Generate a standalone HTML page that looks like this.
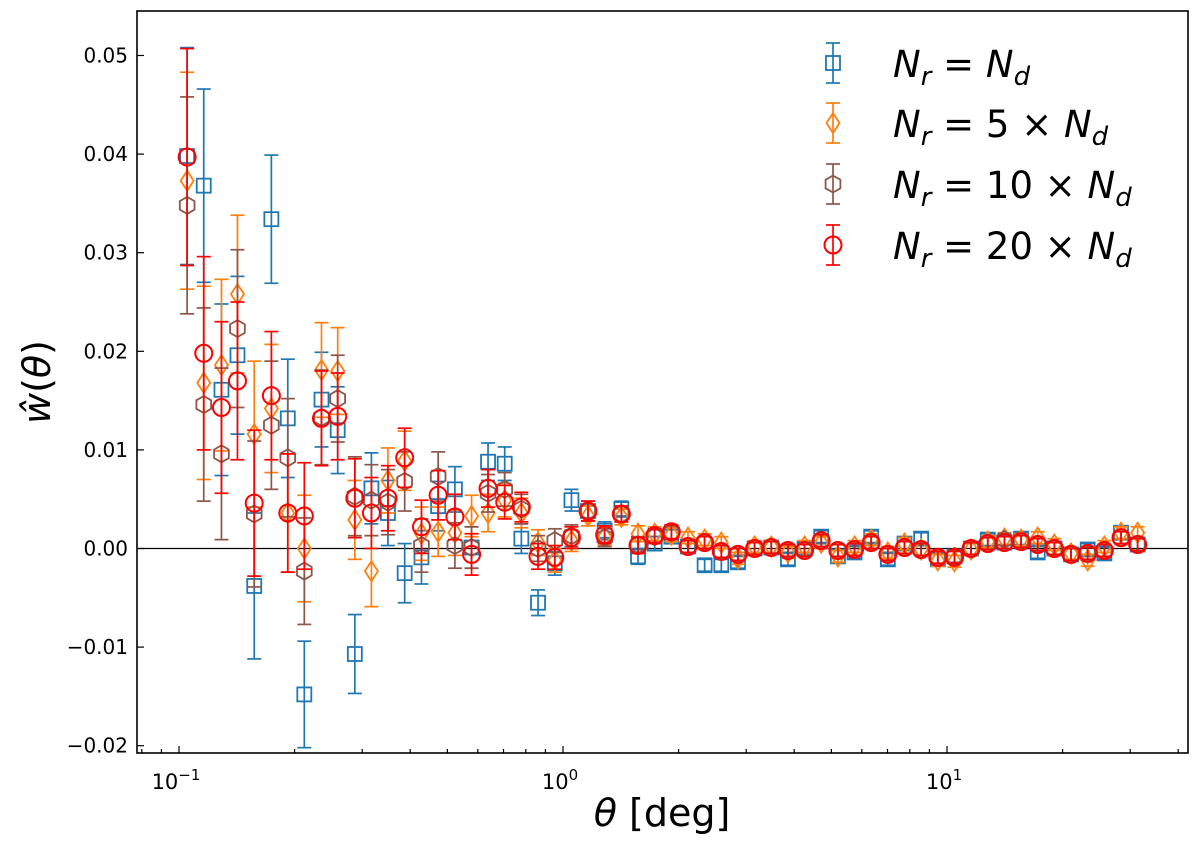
<!DOCTYPE html>
<html><head><meta charset="utf-8"><style>
body{margin:0;background:#fff;}
svg{display:block;font-family:"DejaVu Sans","Liberation Sans",sans-serif;}
</style></head><body>
<svg id="chart" width="1200" height="845" viewBox="0 0 1200 845"></svg>
<script>
const theta=[0.105,0.116,0.129,0.142,0.157,0.174,0.192,0.212,0.235,0.259,0.287,0.317,0.350,0.387,0.428,0.473,0.523,0.578,0.638,0.705,0.779,0.861,0.952,1.052,1.162,1.284,1.419,1.568,1.733,1.915,2.116,2.338,2.584,2.855,3.155,3.486,3.852,4.257,4.704,5.198,5.744,6.347,7.013,7.750,8.563,9.463,10.46,11.55,12.77,14.11,15.59,17.23,19.04,21.04,23.25,25.69,28.39,31.37];
const errs=[0.011,0.0098,0.0087,0.008,0.0074,0.0065,0.006,0.0054,0.0048,0.0044,0.004,0.0036,0.0033,0.003,0.0027,0.0025,0.0023,0.0021,0.0019,0.0017,0.0015,0.0013,0.0012,0.0011,0.001,0.0009,0.0008,0.0008,0.0007,0.0007,0.0006,0.0006,0.0006,0.0006,0.0006,0.0006,0.0006,0.0006,0.0006,0.0006,0.0006,0.0006,0.0006,0.0006,0.0006,0.0006,0.0006,0.0006,0.0006,0.0006,0.0006,0.0006,0.0006,0.0006,0.0006,0.0006,0.0006,0.0006];
const wBlue=[.0398,.0368,.0161,.0196,-.0038,.0334,.0132,-.0148,.0151,.0120,-.0107,.0061,.0036,-.0025,-.0009,.0043,.0060,.0001,.0088,.0086,.0010,-.0055,-.0015,.0049,.0038,.0018,.0040,-.0008,.0005,.0012,.0002,-.0017,-.0017,-.0014,0,.0001,-.0011,0,.0012,-.0008,-.0004,.0012,-.0011,.0005,.0010,-.0011,-.0008,0,.0009,.0006,.0010,-.0004,0,-.0006,-.0001,-.0005,.0016,.0004];
const wOrange=[.0373,.0168,.0186,.0258,.0116,.0142,.0036,0,.0181,.0180,.0029,-.0023,.0069,.0089,.0015,.0017,.0016,.0033,.0036,.0049,.0036,.0006,-.0012,.0008,.0033,.0012,.0032,.0015,.0015,.0014,.0011,.0009,.0006,-.0010,.0002,.0002,-.0004,.0002,.0006,-.0008,.0002,.0009,-.0004,.0005,-.0001,-.0012,-.0013,-.0001,.0007,.0010,.0009,.0011,.0004,-.0005,-.0012,.0002,.0016,.0016];
const wBrown=[.0348,.0146,.0096,.0223,.0035,.0125,.0092,-.0023,.0133,.0152,.0053,.0049,.0047,.0068,.0003,.0073,.0003,.0001,.0056,.0060,.0040,0,.0008,.0013,.0038,.0011,.0035,.0004,.0012,.0016,.0002,.0006,-.0003,-.0006,0,.0001,-.0002,-.0002,.0008,-.0002,-.0001,.0006,-.0006,.0001,-.0001,-.0009,-.0008,0,.0005,.0009,.0007,.0004,0,-.0006,-.0005,-.0002,.0011,.0004];
const wRed=[.0397,.0198,.0143,.0170,.0046,.0155,.0036,.0033,.0132,.0134,.0051,.0036,.0051,.0092,.0022,.0054,.0032,-.0006,.0061,.0047,.0042,-.0008,-.0009,.0011,.0038,.0014,.0035,.0003,.0013,.0017,.0002,.0006,-.0003,-.0006,0,.0001,-.0002,-.0002,.0008,-.0002,-.0001,.0006,-.0006,.0001,-.0001,-.0009,-.0009,0,.0005,.0006,.0007,.0004,0,-.0006,-.0005,-.0002,.0011,.0004];
const yTicks=[0.05,0.04,0.03,0.02,0.01,0.00,-0.01,-0.02];
const yTickLabels=["0.05","0.04","0.03","0.02","0.01","0.00","\u22120.01","\u22120.02"];

const L=137,R=1188,T=11,B=753;
const X=t=>563+384*Math.log10(t);
const Y=v=>548.5-v*9860;
const NS="http://www.w3.org/2000/svg";
const svg=document.getElementById('chart');
function mk(tag,attrs,parent){const e=document.createElementNS(NS,tag);for(const k in attrs)e.setAttribute(k,attrs[k]);(parent||svg).appendChild(e);return e;}

const zl=mk('line',{x1:L,x2:R,y1:Y(0),y2:Y(0),stroke:'#000','stroke-width':1.3});



function marker(g,kind,cx,cy,col){
  let e;
  if(kind==='s') e=mk('rect',{x:cx-7,y:cy-7,width:14,height:14,fill:'none',stroke:col,'stroke-width':1.8},g);
  else if(kind==='d') e=mk('polygon',{points:`${cx},${cy-10} ${cx+6.5},${cy} ${cx},${cy+10} ${cx-6.5},${cy}`,fill:'none',stroke:col,'stroke-width':1.8},g);
  else if(kind==='h'){let p=[];for(let k=0;k<6;k++){const a=Math.PI/2+k*Math.PI/3;p.push((cx+8.5*Math.cos(a)).toFixed(1)+','+(cy+8.5*Math.sin(a)).toFixed(1));}e=mk('polygon',{points:p.join(' '),fill:'none',stroke:col,'stroke-width':1.8},g);}
  else e=mk('circle',{cx:cx,cy:cy,r:8.5,fill:'none',stroke:col,'stroke-width':2},g);
  return e;
}
function errbar(g,cx,ylo,yhi,col){
  mk('line',{x1:cx,x2:cx,y1:ylo,y2:yhi,stroke:col,'stroke-width':1.7},g);
  mk('line',{x1:cx-7,x2:cx+7,y1:ylo,y2:ylo,stroke:col,'stroke-width':1.7},g);
  mk('line',{x1:cx-7,x2:cx+7,y1:yhi,y2:yhi,stroke:col,'stroke-width':1.7},g);
}
const series=[[wBlue,'#1f77b4','s','series-nr-eq-nd'],[wOrange,'#ff7f0e','d','series-nr-5nd'],[wBrown,'#8c564b','h','series-nr-10nd'],[wRed,'#ff0000','c','series-nr-20nd']];
series.forEach(([vals,col,kind,name])=>{
  const g=mk('g',{});
  
  
  vals.forEach((v,i)=>{
    const cx=X(theta[i]);
    errbar(g,cx,Y(v-errs[i]),Y(v+errs[i]),col);
    const m=marker(g,kind,cx,Y(v),col);
    
    
  });
});

const fr=mk('rect',{x:L,y:T,width:R-L,height:B-T,fill:'none',stroke:'#000','stroke-width':1.6});



yTicks.forEach((v,i)=>{
  const y=Y(v);
  mk('line',{x1:L,x2:L+7,y1:y,y2:y,stroke:'#000','stroke-width':1.2});
  const t=mk('text',{x:L-9,y:y+7,'text-anchor':'end','font-size':20,fill:'#000'});
  t.textContent=yTickLabels[i];
  
  
});
for(let d=-2;d<=1;d++){
  for(let m=1;m<10;m++){
    const v=m*Math.pow(10,d);const x=X(v);
    if(x<L||x>R)continue;
    mk('line',{x1:x,x2:x,y1:B,y2:B-(m===1?7:4),stroke:'#000','stroke-width':1.2});
  }
}
[[0.1,'\u22121'],[1,'0'],[10,'1']].forEach(([v,e])=>{
  const t=mk('text',{x:X(v)-3,y:B+36,'text-anchor':'middle','font-size':21,fill:'#000'});
  t.textContent='10';
  const s=mk('tspan',{dy:-9,'font-size':15},t);s.textContent=e;
  
  
});

const xt=mk('text',{x:662,y:826,'text-anchor':'middle','font-size':38,fill:'#000'});
xt.innerHTML='<tspan font-style="italic">θ</tspan> [deg]';


const yt=mk('text',{x:0,y:0,'text-anchor':'middle','font-size':38,fill:'#000',transform:'translate(50,382) rotate(-90)'});
yt.innerHTML='<tspan font-style="italic">ŵ</tspan>(<tspan font-style="italic">θ</tspan>)';



const legLabels=['','5 × ','10 × ','20 × '];
const legY=[63,123,184,245];
series.forEach(([vals,col,kind,name],i)=>{
  const g=mk('g',{});
  
  
  const cy=legY[i];
  errbar(g,833,cy-20,cy+20,col);
  marker(g,kind,833,cy,col);
  const t=mk('text',{x:893,y:cy+14,'font-size':37,fill:'#000'},g);
  t.innerHTML='<tspan font-style="italic">N</tspan><tspan font-style="italic" font-size="26" dy="8">r</tspan><tspan dy="-8"> = '+legLabels[i]+'</tspan><tspan font-style="italic">N</tspan><tspan font-style="italic" font-size="26" dy="8">d</tspan>';
});
</script>
</body></html>
